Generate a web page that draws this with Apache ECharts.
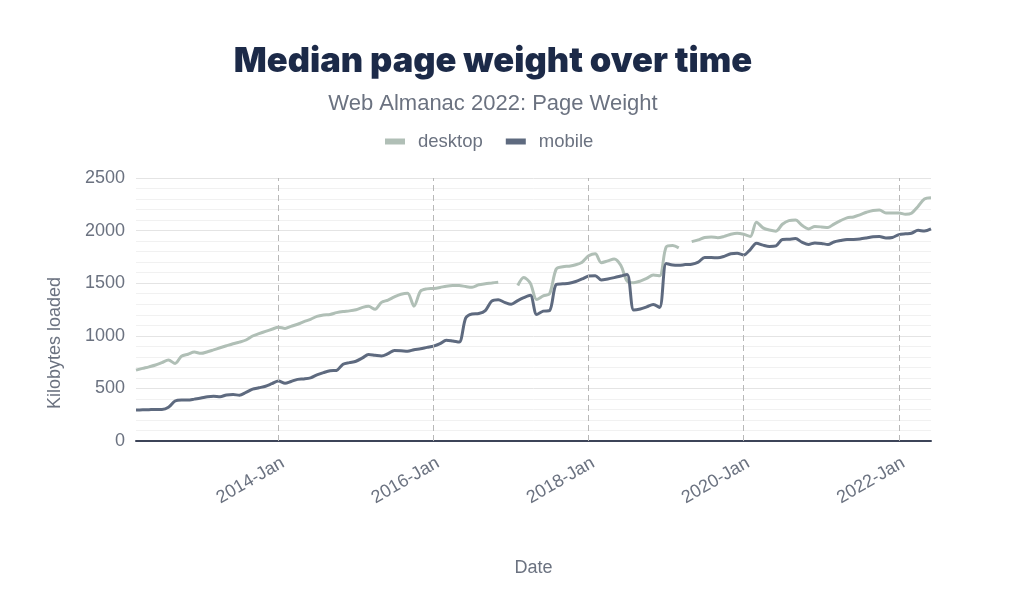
<!DOCTYPE html>
<html>
<head>
<meta charset="utf-8">
<script src="https://cdn.jsdelivr.net/npm/echarts@6/dist/echarts.min.js"></script>
<style>
html,body{margin:0;padding:0;background:#fff;}
#chart{width:1024px;height:593px;}
</style>
</head>
<body>
<div id="chart"></div>
<script>
// Monthly series, first point = 2012-03
const startYear = 2012, startMonth = 3;
const desktop = [
 674,690,705,722,745,769,737,805,825,845,
 833,848,866,886,905,924,940,960,998,1020,
 1042,1062,1082,1070,1090,1110,1135,1157,1185,1198,
 1203,1220,1231,1237,1248,1270,1280,1252,1318,1340,
 1370,1395,1405,1282,1424,1446,1450,1460,1472,1478,
 1478,1468,1462,1485,1495,1502,1510,null,null,1478,
 1555,1500,1345,1380,1400,1635,1657,1662,1675,1700,
 1760,1780,1695,1712,1730,1670,1520,1505,1520,1545,
 1578,1570,1845,1858,1836,null,1895,1912,1935,1940,
 1932,1945,1965,1975,1965,1945,2080,2026,2005,1995,
 2060,2095,2100,2050,2016,2038,2035,2030,2062,2095,
 2121,2130,2150,2174,2192,2195,2168,2168,2168,2155,
 2165,2230,2300,2312
];
const mobile = [
 294,296,298,300,300,320,380,390,389,398,
 408,420,425,421,438,442,435,462,493,506,
 520,545,570,550,566,586,590,600,628,650,
 668,671,730,745,758,790,823,815,808,830,
 860,858,853,868,877,890,902,925,958,950,
 940,1170,1208,1212,1240,1329,1343,1318,1300,1335,
 1362,1385,1203,1234,1240,1488,1494,1500,1516,1540,
 1568,1572,1530,1540,1553,1568,1583,1245,1255,1275,
 1298,1270,1687,1672,1670,1677,1680,1700,1745,1745,
 1741,1755,1780,1785,1768,1820,1880,1862,1850,1855,
 1915,1918,1924,1890,1868,1883,1878,1868,1892,1905,
 1915,1916,1920,1930,1942,1944,1930,1935,1962,1970,
 1975,2003,1996,2016
];
const xTickYears = [2014, 2016, 2018, 2020, 2022];
const yTicks = [0, 500, 1000, 1500, 2000, 2500];
const xMin = '2012-03-01', xMax = '2022-06-01';

const ts = s => +echarts.time.parse(s);
function monthDate(i){
  const m0 = startMonth - 1 + i;
  const y = startYear + Math.floor(m0 / 12);
  const m = (m0 % 12) + 1;
  return y + '-' + (m < 10 ? '0' + m : m) + '-01';
}
const dates = desktop.map((_, i) => ts(monthDate(i)));
const toPairs = arr => arr.map((v, i) => [dates[i], v === null ? '-' : v]);
const tickTimes = xTickYears.map(y => ts(y + '-01-01'));

const gray = '#6b7280';
const chart = echarts.init(document.getElementById('chart'), null, {renderer: 'canvas'});
chart.setOption({
  animation: false,
  backgroundColor: '#fff',
  title: [
    {text: 'Median page weight over time', left: 488, top: 39, textAlign: 'center',
     textStyle: {fontFamily: 'Inter', fontWeight: 900, fontSize: 34.5, color: '#1c2a48'}},
    {text: 'Web Almanac 2022: Page Weight', left: 488, top: 88, textAlign: 'center',
     textStyle: {fontFamily: 'Liberation Sans', fontWeight: 'normal', fontSize: 22, color: gray}}
  ],
  legend: {
    left: 380, top: 127, icon: 'rect', itemWidth: 20, itemHeight: 6, itemGap: 23,
    textStyle: {fontFamily: 'Liberation Sans', fontSize: 18.5, color: gray, padding: [0, 0, 0, 8]},
    data: ['desktop', 'mobile']
  },
  grid: {left: 136, right: 93, top: 178, bottom: 152, containLabel: false},
  xAxis: {
    type: 'value', min: ts(xMin), max: ts(xMax), scale: true,
    name: 'Date', nameLocation: 'middle', nameGap: 118,
    nameTextStyle: {fontFamily: 'Liberation Sans', fontSize: 18, color: gray},
    axisLine: {show: true, onZero: false, lineStyle: {color: '#3c4458', width: 2}},
    axisTick: {show: false},
    axisLabel: {
      customValues: tickTimes, rotate: 30, margin: 13, verticalAlign: 'top',
      fontFamily: 'Liberation Sans', fontSize: 18, color: gray,
      formatter: v => new Date(v).getFullYear() + '-Jan'
    },
    splitLine: {show: false}
  },
  yAxis: {
    type: 'value', min: 0, max: 2500, interval: 500,
    axisLine: {show: false}, axisTick: {show: false},
    axisLabel: {fontFamily: 'Liberation Sans', fontSize: 18, color: gray, margin: 11,
                formatter: v => String(v)},
    splitLine: {lineStyle: {color: '#e4e4e4', width: 1}},
    minorTick: {show: false, splitNumber: 5},
    minorSplitLine: {show: true, lineStyle: {color: '#f1f1f1', width: 1}}
  },
  graphic: [{
    type: 'text', x: 55, y: 343, rotation: Math.PI / 2,
    style: {text: 'Kilobytes loaded', fill: gray, font: '18px "Liberation Sans"',
            align: 'center', verticalAlign: 'middle'}
  }],
  series: [
    {
      name: 'desktop', type: 'line', data: toPairs(desktop), showSymbol: false, symbol: 'none',
      smooth: 0.3, connectNulls: false, color: '#b0bfb6',
      lineStyle: {width: 3, color: '#b0bfb6'},
      markLine: {
        silent: true, symbol: 'none', label: {show: false},
        lineStyle: {color: '#b8b8b8', type: [6, 4], width: 1},
        data: tickTimes.map(t => ({xAxis: t}))
      },
      z: 3
    },
    {
      name: 'mobile', type: 'line', data: toPairs(mobile), showSymbol: false, symbol: 'none',
      smooth: 0.3, color: '#5e6a7f',
      lineStyle: {width: 3, color: '#5e6a7f'},
      z: 4
    }
  ]
});
</script>
</body>
</html>
